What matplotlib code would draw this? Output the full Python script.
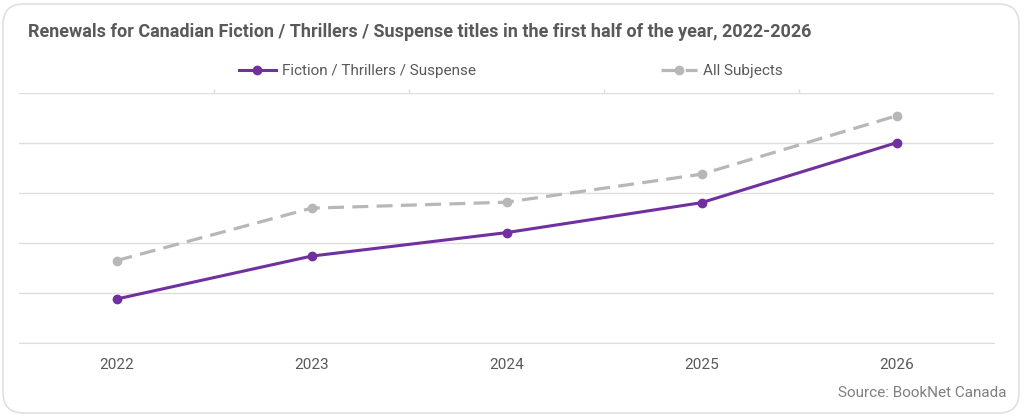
import matplotlib
matplotlib.use("Agg")
import matplotlib.pyplot as plt
from matplotlib.patches import FancyBboxPatch
from matplotlib.ticker import FixedLocator

years = ["2022", "2023", "2024", "2025", "2026"]
fiction = [8.8, 17.4, 22.1, 28.1, 40.1]
all_subjects = [16.5, 27.0, 28.2, 33.8, 45.5]
series_names = ["Fiction / Thrillers / Suspense", "All Subjects"]
title = "Renewals for Canadian Fiction / Thrillers / Suspense titles in the first half of the year, 2022-2026"
source = "Source: BookNet Canada"

PURPLE = "#7030a0"
GRAY = "#b7b7b7"
TEXT = "#595959"
GRID = "#dedede"

plt.rcParams['font.family'] = ['Roboto', 'DejaVu Sans']

fig = plt.figure(figsize=(10.24, 4.16), dpi=100)
fig.patch.set_facecolor("white")

border = FancyBboxPatch((3/1024, 3/416), 1016/1024, 409/416,
                        boxstyle="round,pad=0,rounding_size=0.02",
                        transform=fig.transFigure, facecolor="none",
                        edgecolor="#e0e0e0", linewidth=1.2, mutation_aspect=1024/416,
                        zorder=-5)
fig.patches.append(border)

ax = fig.add_axes([19/1024, (416-343)/416, (994-19)/1024, (343-93.3)/416])
ax.set_facecolor("none")
x = list(range(len(years)))

ax.plot(x, all_subjects, color=GRAY, lw=2.3, linestyle=(0, (5, 2.6)),
        marker="o", markersize=6, label=series_names[1], zorder=3)
ax.plot(x, fiction, color=PURPLE, lw=2.2, marker="o", markersize=6,
        label=series_names[0], zorder=4)

ax.set_xlim(-0.5, len(years) - 0.5)
ax.set_ylim(0, 50)
ax.set_yticks([0, 10, 20, 30, 40, 50])
ax.set_yticklabels([])
ax.tick_params(axis="y", length=0)
ax.grid(axis="y", color=GRID, lw=1)
ax.set_axisbelow(True)
ax.set_xticks(x)
ax.set_xticklabels(years, color=TEXT, fontsize=11)
ax.tick_params(axis="x", which="major", length=0, pad=11)
ax.xaxis.set_minor_locator(FixedLocator([i + 0.5 for i in x[:-1]]))
ax.tick_params(axis="x", which="minor", top=True, bottom=False, length=3,
               color=GRID, width=1, direction="out")
for s in ["left", "right", "top"]:
    ax.spines[s].set_visible(False)
ax.spines["bottom"].set_color(GRID)

fig.text(28/1024, 1 - 32/416, title, fontsize=13, fontweight="bold",
         color=TEXT, ha="left", va="center")

handles, labels = ax.get_legend_handles_labels()
leg = fig.legend([handles[1], handles[0]], [labels[1], labels[0]], loc="center",
                 bbox_to_anchor=(511/1024, 1 - 71/416), ncol=2, frameon=False,
                 fontsize=11, handlelength=2.4, handletextpad=0.4, columnspacing=12.1)
for t in leg.get_texts():
    t.set_color(TEXT)

fig.text(1006/1024, 1 - 393/416, source, fontsize=11, color="#808080",
         ha="right", va="center")

fig.savefig("out.png", dpi=100, facecolor="white")
